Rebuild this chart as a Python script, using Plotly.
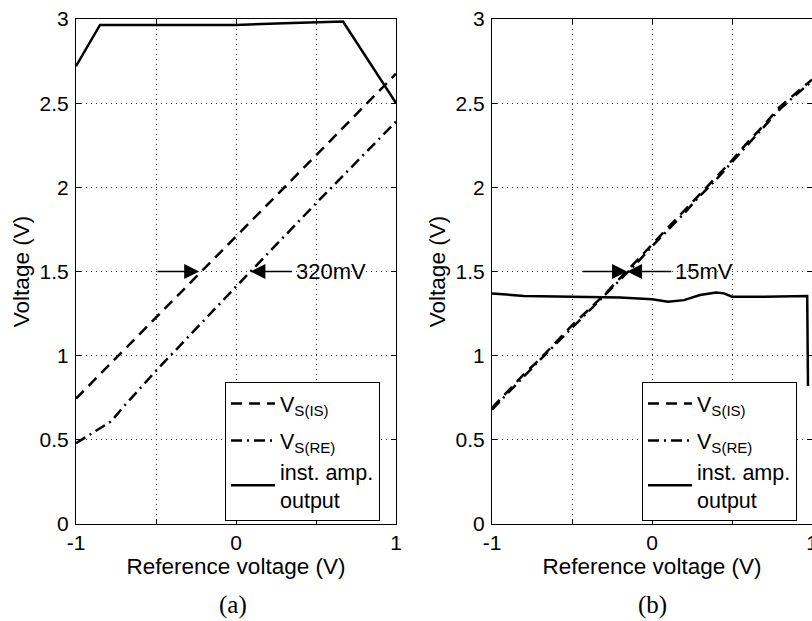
import plotly.graph_objects as go

# ---------------- data ----------------
# (a) left panel
a_out_x = [-1.0, -0.85, -0.5, 0.0, 0.3, 0.669, 1.0]
a_out_y = [2.72, 2.965, 2.965, 2.965, 2.975, 2.985, 2.5]

a_is_x = [-1.0, -0.5, 0.0, 0.5, 1.0]
a_is_y = [0.745, 1.225, 1.71, 2.19, 2.675]

a_re_x = [-1.0, -0.9, -0.78, -0.7, -0.5, 0.0, 0.5, 1.0]
a_re_y = [0.48, 0.54, 0.61, 0.70, 0.91, 1.41, 1.905, 2.39]

# (b) right panel
b_x = [-1.0, -0.9, -0.8, -0.7, -0.6, -0.5, -0.4, -0.3, -0.2, -0.1, 0.0,
       0.1, 0.2, 0.3, 0.4, 0.5, 0.6, 0.7, 0.8, 0.9, 1.0]
b_is_y = [0.69, 0.79, 0.89, 0.98, 1.08, 1.18, 1.27, 1.36, 1.46, 1.56, 1.66,
          1.76, 1.86, 1.96, 2.06, 2.16, 2.27, 2.37, 2.48, 2.56, 2.64]
b_re_y = [0.68, 0.78, 0.88, 0.975, 1.07, 1.165, 1.26, 1.35, 1.445, 1.545, 1.65,
          1.745, 1.845, 1.95, 2.045, 2.15, 2.255, 2.36, 2.465, 2.55, 2.63]

b_out_x = [-1.0, -0.8, -0.5, -0.2, 0.0, 0.1, 0.2, 0.3, 0.4, 0.45, 0.5, 0.7, 0.97, 0.975]
b_out_y = [1.37, 1.355, 1.35, 1.345, 1.335, 1.32, 1.33, 1.36, 1.375, 1.37, 1.35, 1.35, 1.355, 0.82]

x_ticks = [-1, -0.5, 0, 0.5, 1]
x_ticktext = ["-1", "", "0", "", "1"]
y_ticks = [0, 0.5, 1, 1.5, 2, 2.5, 3]
y_ticktext = ["0", "0.5", "1", "1.5", "2", "2.5", "3"]

names = ["V<sub>S(IS)</sub>", "V<sub>S(RE)</sub>", "inst. amp.<br>output"]

# ---------------- figure ----------------
FONT = "Liberation Sans"
SERIF = "Liberation Serif"
LW = 2.5
DASH = "11px,7px"
DASHDOT = "11px,5px,2px,5px"

fig = go.Figure()

fig.add_trace(go.Scatter(x=a_is_x, y=a_is_y, mode="lines", name=names[0],
                         line=dict(color="black", width=LW, dash=DASH), legendgroup="a1",
                         xaxis="x", yaxis="y", legend="legend"))
fig.add_trace(go.Scatter(x=a_re_x, y=a_re_y, mode="lines", name=names[1],
                         line=dict(color="black", width=LW, dash=DASHDOT), legendgroup="a2",
                         xaxis="x", yaxis="y", legend="legend"))
fig.add_trace(go.Scatter(x=a_out_x, y=a_out_y, mode="lines", name=names[2],
                         line=dict(color="black", width=LW), legendgroup="a2",
                         xaxis="x", yaxis="y", legend="legend"))

fig.add_trace(go.Scatter(x=b_x, y=b_is_y, mode="lines", name=names[0],
                         line=dict(color="black", width=LW, dash=DASH), legendgroup="b1",
                         xaxis="x2", yaxis="y2", legend="legend2"))
fig.add_trace(go.Scatter(x=b_x, y=b_re_y, mode="lines", name=names[1],
                         line=dict(color="black", width=LW, dash=DASHDOT), legendgroup="b2",
                         xaxis="x2", yaxis="y2", legend="legend2"))
fig.add_trace(go.Scatter(x=b_out_x, y=b_out_y, mode="lines", name=names[2],
                         line=dict(color="black", width=LW), legendgroup="b2",
                         xaxis="x2", yaxis="y2", legend="legend2"))

axis_common = dict(
    showline=True, linecolor="black", linewidth=1, mirror="ticks",
    ticks="inside", ticklen=5, tickcolor="black", tickwidth=1,
    showgrid=True, gridcolor="#333333", gridwidth=1, griddash="1px,4px",
    zeroline=False, tickfont=dict(family=FONT, size=21, color="black"),
    ticklabeloverflow="allow",
)

xl = dict(axis_common, range=[-1, 1], tickmode="array", tickvals=x_ticks,
          ticktext=x_ticktext,
          title=dict(text="Reference voltage (V)", font=dict(family=FONT, size=22.5, color="black"),
                     standoff=5))
yl = dict(axis_common, range=[0, 3], tickmode="array", tickvals=y_ticks,
          ticktext=y_ticktext, ticklabelstandoff=2,
          title=dict(text="Voltage (V)", font=dict(family=FONT, size=22.5, color="black"),
                     standoff=3))

W, H = 812, 621
L, T, B = 76, 19, 97
PW, PH = W - L, H - T - B   # 736 x 505 plot region

d1 = [0.0, 320 / PW]
d2 = [416 / PW, 1.0]

legend_common = dict(
    bgcolor="white", bordercolor="black", borderwidth=1,
    font=dict(family=FONT, size=21.5, color="black"),
    xanchor="left", yanchor="top", itemwidth=44, tracegroupgap=6,
)

fig.update_layout(
    width=W, height=H,
    margin=dict(l=L, r=0, t=T, b=B, autoexpand=False),
    paper_bgcolor="white", plot_bgcolor="white",
    xaxis=dict(xl, domain=d1, anchor="y"),
    yaxis=dict(yl, domain=[0, 1], anchor="x"),
    xaxis2=dict(xl, domain=d2, anchor="y2"),
    yaxis2=dict(yl, domain=[0, 1], anchor="x2"),
    legend=dict(legend_common, x=(225 - 76) / PW, y=(524 - 382) / PH),
    legend2=dict(legend_common, x=(642 - 76) / PW, y=(524 - 382) / PH),
    showlegend=True,
)

arrow_style = dict(showarrow=True, arrowhead=2, arrowsize=2.0, arrowwidth=1.5,
                   arrowcolor="black", text="")

annotations = [
    # (a) arrows
    dict(arrow_style, x=-0.23, y=1.5, ax=-0.5, ay=1.5, xref="x", yref="y", axref="x", ayref="y"),
    dict(arrow_style, x=0.09, y=1.5, ax=0.36, ay=1.5, xref="x", yref="y", axref="x", ayref="y"),
    dict(text="320mV", x=0.36, y=1.5, xref="x", yref="y", showarrow=False,
         xanchor="left", yanchor="middle", xshift=0,
         font=dict(family=FONT, size=22, color="black")),
    # (b) arrows
    dict(arrow_style, x=-0.156, y=1.5, ax=0.13, ay=1.5, xref="x2", yref="y2", axref="x2", ayref="y2"),
    dict(arrow_style, x=-0.156, y=1.5, ax=-0.44, ay=1.5, xref="x2", yref="y2", axref="x2", ayref="y2"),
    dict(text="15mV", x=0.13, y=1.5, xref="x2", yref="y2", showarrow=False,
         xanchor="left", yanchor="middle", xshift=0,
         font=dict(family=FONT, size=22, color="black")),
    # panel labels
    dict(text="(a)", x=(233 - 76) / PW, y=(524 - 605) / PH, xref="paper", yref="paper",
         showarrow=False, xanchor="center", yanchor="middle",
         font=dict(family=SERIF, size=25, color="black")),
    dict(text="(b)", x=(652 - 76) / PW, y=(524 - 605) / PH, xref="paper", yref="paper",
         showarrow=False, xanchor="center", yanchor="middle",
         font=dict(family=SERIF, size=25, color="black")),
]
fig.update_layout(annotations=annotations)

# remove the default 8px page margin so the 812x621 figure fills the window exactly
fig.write_html("out.html", config={"displayModeBar": False},
               post_script="document.body.style.margin='0px';")
